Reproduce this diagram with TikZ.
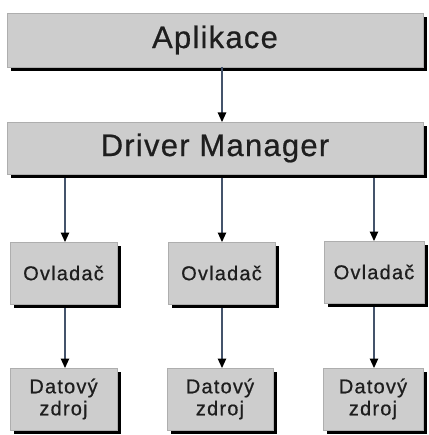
\documentclass[tikz,border=0pt]{standalone}
\usepackage{fontspec}
\setmainfont{Liberation Sans}
\usetikzlibrary{arrows.meta,shadows}

\definecolor{boxgray}{HTML}{CDCDCD}
\definecolor{linkblue}{HTML}{44536B}
\definecolor{inkgray}{HTML}{1E1E1E}

\begin{document}
\begin{tikzpicture}[x=1pt,y=1pt,
  box/.style={rectangle, fill=boxgray, draw=boxgray!85!black, line width=0.3pt,
    inner sep=0pt, outer sep=0pt, align=center, text=inkgray,
    drop shadow={shadow xshift=4pt, shadow yshift=-4pt, fill=black, opacity=1}},
  bigbox/.style={box, font=\fontsize{31}{34}\selectfont\addfontfeature{LetterSpace=4,FakeBold=0.6}},
  smallbox/.style={box, font=\fontsize{20}{22}\selectfont\addfontfeature{LetterSpace=6,FakeBold=0.6}},
  link/.style={draw=linkblue, line width=1.1pt,
    -{Triangle[width=8.5pt,length=9.5pt,black]}}
]
\useasboundingbox (0,0) rectangle (428,-435);
\fill[white] (0,0) rectangle (428,-435);

% top layers
\node[bigbox, minimum width=416pt, minimum height=54pt] (app) at (215,-40) {Aplikace};
\node[bigbox, minimum width=416pt, minimum height=52pt] (dm) at (215,-148) {Driver Manager};

% drivers
\node[smallbox, minimum width=107pt, minimum height=62pt] (d1) at (63.5,-273) {Ovladač};
\node[smallbox, minimum width=107pt, minimum height=62pt] (d2) at (221.5,-273) {Ovladač};
\node[smallbox, minimum width=100pt, minimum height=62pt] (d3) at (374,-272) {Ovladač};

% data sources
\node[smallbox, minimum width=107pt, minimum height=62pt] (s1) at (63.5,-399) {Datový\\zdroj};
\node[smallbox, minimum width=106pt, minimum height=62pt] (s2) at (220,-399) {Datový\\zdroj};
\node[smallbox, minimum width=100pt, minimum height=62pt] (s3) at (373,-399) {Datový\\zdroj};

% connectors
\coordinate (a0) at (222,-71);
\draw[link] (app.south -| a0) -- (dm.north -| a0);
\foreach \i/\x in {1/65,2/222,3/374}{
  \coordinate (c\i) at (\x,0);
  \draw[link] ([yshift=-4pt]dm.south -| c\i) -- (d\i.north -| c\i);
  \draw[link] ([yshift=-4pt]d\i.south -| c\i) -- (s\i.north -| c\i);
}
\end{tikzpicture}
\end{document}
